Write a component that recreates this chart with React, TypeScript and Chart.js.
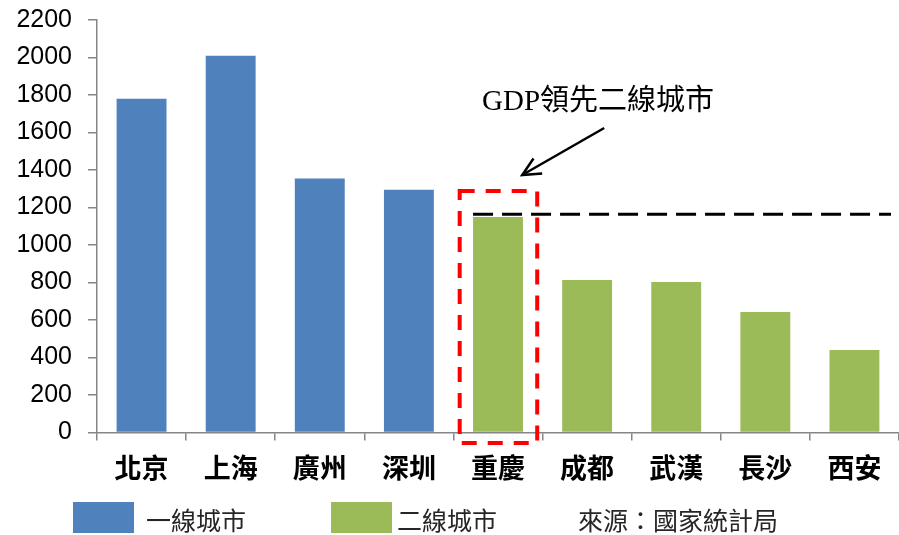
import React, { useEffect, useRef } from "react";
import { Chart, registerables } from "chart.js";

Chart.register(...registerables);

const categories = ["北京", "上海", "廣州", "深圳", "重慶", "成都", "武漢", "長沙", "西安"];
const tier1Label = "一線城市";
const tier2Label = "二線城市";
const tier1Values = [1780, 2010, 1355, 1295, null, null, null, null, null];
const tier2Values = [null, null, null, null, 1150, 813, 803, 643, 440];
const yTicks = { min: 0, max: 2200, step: 200 };
const thresholdValue = 1164;
const highlightIndex = 4;
const highlightTopValue = 1288;
const annotationText = "GDP領先二線城市";
const sourceText = "來源：國家統計局";

const BLUE = "#4F81BD";
const GREEN = "#9BBB59";
const AXIS = "#868686";
const CJK = "'Noto Sans CJK TC', 'Noto Sans CJK SC', sans-serif";

const overlayPlugin = {
  id: "overlay",
  afterDraw(chart: any) {
    const ctx = chart.ctx as CanvasRenderingContext2D;
    const x = chart.scales.x;
    const y = chart.scales.y;
    const area = chart.chartArea;
    const cw = x.getPixelForValue(1) - x.getPixelForValue(0);
    const cx = x.getPixelForValue(highlightIndex);

    ctx.save();
    const ty = y.getPixelForValue(thresholdValue);
    ctx.strokeStyle = "#000";
    ctx.lineWidth = 3;
    ctx.setLineDash([20, 9]);
    ctx.beginPath();
    ctx.moveTo(cx - cw * 0.28, ty);
    ctx.lineTo(area.right - 8, ty);
    ctx.stroke();

    const rl = cx - cw * 0.43;
    const rr = cx + cw * 0.44;
    const rt = y.getPixelForValue(highlightTopValue);
    const rb = y.getPixelForValue(0) + 10.5;
    ctx.strokeStyle = "#FF0000";
    ctx.lineWidth = 4;
    ctx.setLineDash([15, 11]);
    ctx.strokeRect(rl, rt, rr - rl, rb - rt);

    ctx.setLineDash([]);
    ctx.strokeStyle = "#000";
    ctx.lineWidth = 2.5;
    const tipX = rr - 15;
    const tipY = rt - 16;
    const tailX = tipX + 82;
    const tailY = tipY - 47;
    ctx.beginPath();
    ctx.moveTo(tailX, tailY);
    ctx.lineTo(tipX, tipY);
    ctx.stroke();
    const ang = Math.atan2(tipY - tailY, tipX - tailX);
    const hl = 20;
    ctx.beginPath();
    ctx.moveTo(tipX - hl * Math.cos(ang - 0.45), tipY - hl * Math.sin(ang - 0.45));
    ctx.lineTo(tipX, tipY);
    ctx.lineTo(tipX - hl * Math.cos(ang + 0.45), tipY - hl * Math.sin(ang + 0.45));
    ctx.stroke();

    ctx.fillStyle = "#000";
    ctx.font = "29px 'Liberation Serif', " + CJK;
    ctx.textBaseline = "middle";
    ctx.textAlign = "left";
    ctx.fillText(annotationText, 482, 102);

    const ds = chart.data.datasets;
    const items = [
      { box: 73, text: 146, color: ds[0].backgroundColor, label: ds[0].label },
      { box: 331, text: 397, color: ds[1].backgroundColor, label: ds[1].label },
    ];
    ctx.font = "25px " + CJK;
    for (const it of items) {
      ctx.fillStyle = it.color;
      ctx.fillRect(it.box, 502, 61, 31);
      ctx.fillStyle = "#262626";
      ctx.fillText(it.label, it.text, 520);
    }
    ctx.fillText(sourceText, 578, 520);
    ctx.restore();
  },
};

export default function App() {
  const ref = useRef<HTMLCanvasElement | null>(null);
  useEffect(() => {
    if (!ref.current) return;
    const chart = new Chart(ref.current, {
      type: "bar",
      data: {
        labels: categories,
        datasets: [
          { label: tier1Label, data: tier1Values as any, backgroundColor: BLUE, borderWidth: 0 },
          { label: tier2Label, data: tier2Values as any, backgroundColor: GREEN, borderWidth: 0 },
        ],
      },
      options: {
        animation: false,
        responsive: true,
        maintainAspectRatio: false,
        layout: { padding: { left: 0, right: -3, top: 20, bottom: 0 } },
        datasets: { bar: { categoryPercentage: 1, barPercentage: 0.56 } },
        plugins: { legend: { display: false }, tooltip: { enabled: false } },
        scales: {
          x: {
            stacked: true,
            afterFit: (s: any) => { s.height = 102.5; s.paddingLeft = 0; s.paddingRight = 0; },
            grid: { offset: true, drawOnChartArea: false, drawTicks: true, tickLength: 8, color: AXIS, lineWidth: 1.5 },
            border: { color: AXIS, width: 1.5 },
            ticks: { color: "#000", padding: 14, font: { family: CJK, size: 27, weight: "bold", lineHeight: 1 } },
          },
          y: {
            stacked: true,
            min: yTicks.min,
            max: yTicks.max,
            afterFit: (s: any) => { s.width = 97; s.paddingTop = 0; s.paddingBottom = 0; },
            grid: { drawOnChartArea: false, drawTicks: true, tickLength: 9, color: AXIS, lineWidth: 1.5 },
            border: { color: AXIS, width: 1.5 },
            ticks: {
              stepSize: yTicks.step,
              color: "#000",
              padding: 16,
              callback: (v: any) => String(v),
              font: { family: "'Liberation Sans', Arial, sans-serif", size: 25 },
            },
          },
        },
      },
      plugins: [overlayPlugin],
    });
    return () => chart.destroy();
  }, []);
  return (
    <div style={{ position: "fixed", left: 0, top: 0, width: 899, height: 535, background: "#fff" }}>
      <canvas ref={ref} />
    </div>
  );
}
